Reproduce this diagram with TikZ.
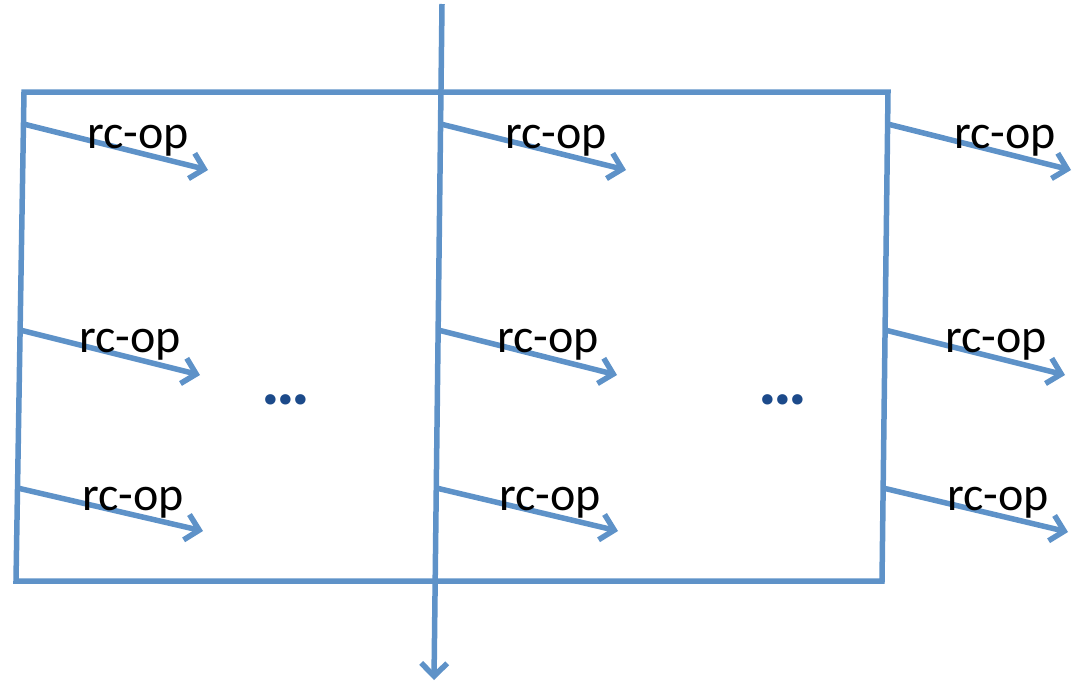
\documentclass[tikz,border=0pt]{standalone}
\usepackage{fontspec}
\setmainfont{Carlito}
\usetikzlibrary{arrows.meta}
\definecolor{lineblue}{RGB}{94,146,200}
\definecolor{dotblue}{RGB}{28,74,138}
\tikzset{
  frame/.style={draw=lineblue, line width=5.5pt, line join=miter},
  opArrow/.style={draw=lineblue, line width=5.5pt, -{Straight Barb[length=13pt,width=26pt]}},
  opLabel/.style={font=\fontsize{48}{52}\selectfont, inner sep=0pt, anchor=base west},
  moreDots/.style={font=\fontsize{70}{74}\selectfont\bfseries, text=dotblue, inner sep=0pt, anchor=base},
}
\newcommand{\tightdots}{.\kern-3.5pt.\kern-3.5pt.}
\begin{document}
\begin{tikzpicture}[x=1pt,y=-1pt]
\useasboundingbox (0,0) rectangle (1075,683);

%--- FRAME ---
\coordinate (tl) at (24,92);
\coordinate (tr) at (888,92);
\coordinate (br) at (882,581);
\coordinate (bl) at (16,581);
\draw[frame] (tl) -- (tr) -- (br) -- (bl) -- cycle;

%--- MIDDLE AXIS ---
\coordinate (axisTop) at (442,4);
\coordinate (axisBot) at (434,680);
\draw[opArrow] (axisTop) -- (axisBot);

%--- RC-OP ARROWS (start on a column line, label above) ---
\foreach \name/\sx/\sy/\ex/\ey/\lx/\ly in {
    l1/23.5/124/208/170/87/148,   l2/20/330/200/375/79/352,    l3/17.5/488/203/531/82/510,
    m1/440.6/124/626/170/505/148, m2/438.1/330/617/375/497/352, m3/436.3/488/618/531/499/510,
    r1/887.6/124/1071/170/954/148, r2/885/330/1065/375/945/352, r3/883/488/1068/532/947/510} {
  \coordinate (\name s) at (\sx,\sy);
  \coordinate (\name e) at (\ex,\ey);
  \draw[opArrow] (\name s) -- (\name e);
  \node[opLabel] (\name lab) at (\lx,\ly) {rc-op};
}

%--- ELLIPSES ---
\node[moreDots] (dotsLeft) at (286,404) {\tightdots};
\node[moreDots] (dotsRight) at (783,404) {\tightdots};

\end{tikzpicture}
\end{document}
